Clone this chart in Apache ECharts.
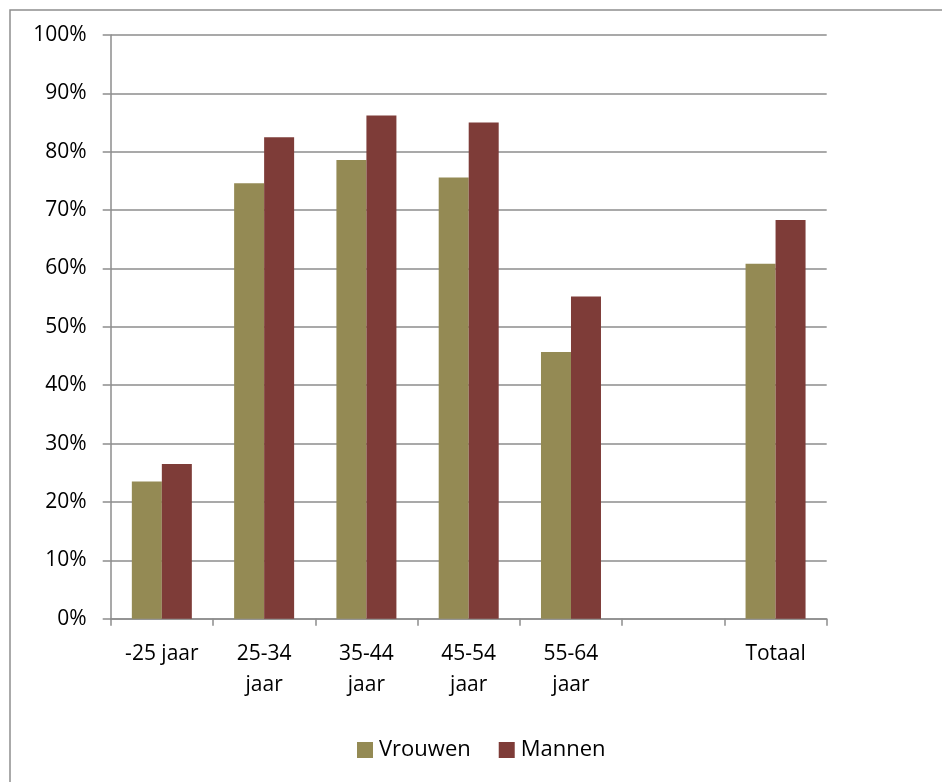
<!DOCTYPE html>
<html>
<head>
<meta charset="utf-8">
<script src="https://cdn.jsdelivr.net/npm/echarts@6/dist/echarts.min.js"></script>
<style>
  html, body { margin: 0; padding: 0; background: #fff; }
  #chart { width: 942px; height: 782px; }
</style>
</head>
<body>
<div id="chart"></div>
<script>
// Age groups (the blank one separates the groups from the total)
const categories = ['-25 jaar', '25-34 jaar', '35-44 jaar', '45-54 jaar', '55-64 jaar', '', 'Totaal'];
// Percentages per group
const vrouwen = [23.5, 74.6, 78.6, 75.6, 45.7, null, 60.8];
const mannen  = [26.5, 82.5, 86.2, 85.0, 55.2, null, 68.3];
const yTicks = [0, 100, 10]; // min, max, step (%)

const gridColor = '#8d8d8d';
const font = '"Open Sans", "Noto Sans", sans-serif';

const chart = echarts.init(document.getElementById('chart'), null, { renderer: 'canvas' });
chart.setOption({
  backgroundColor: '#ffffff',
  animation: false,
  textStyle: { fontFamily: font, color: '#000' },
  graphic: [{
    type: 'rect',
    shape: { x: 10, y: 10, width: 1000, height: 1000 },
    style: { fill: 'none', stroke: '#8e8e8e', lineWidth: 1.5 },
    silent: true
  }],
  grid: { left: 110.7, right: 115.3, top: 35, bottom: 163.3, containLabel: false },
  legend: {
    left: 352,
    top: 734,
    itemWidth: 16,
    itemHeight: 16,
    itemGap: 28,
    icon: 'rect',
    textStyle: { fontFamily: font, fontSize: 22, color: '#000', padding: [0, 0, 0, 1] },
    data: ['Vrouwen', 'Mannen']
  },
  xAxis: {
    type: 'category',
    data: categories,
    axisLine: { show: true, lineStyle: { color: gridColor, width: 1.5 } },
    axisTick: { show: true, length: 7, lineStyle: { color: gridColor, width: 1.5 } },
    axisLabel: {
      interval: 0,
      margin: 20,
      fontFamily: font,
      fontSize: 21,
      lineHeight: 31,
      color: '#000',
      formatter: v => v.replace(/^(\d+-\d+) /, '$1\n')
    }
  },
  yAxis: {
    type: 'value',
    min: yTicks[0],
    max: yTicks[1],
    interval: yTicks[2],
    axisLine: { show: true, lineStyle: { color: gridColor, width: 1.5 } },
    axisTick: { show: true, length: 8, lineStyle: { color: gridColor, width: 1.5 } },
    splitLine: { show: true, lineStyle: { color: gridColor, width: 1.5 } },
    axisLabel: {
      margin: 24,
      fontFamily: font,
      fontSize: 21,
      color: '#000',
      formatter: '{value}%'
    }
  },
  series: [
    {
      name: 'Vrouwen',
      type: 'bar',
      data: vrouwen,
      barWidth: 30,
      barGap: '0%',
      itemStyle: { color: '#948a54' }
    },
    {
      name: 'Mannen',
      type: 'bar',
      data: mannen,
      barWidth: 30,
      barGap: '0%',
      itemStyle: { color: '#7e3c38' }
    }
  ]
});
</script>
</body>
</html>
